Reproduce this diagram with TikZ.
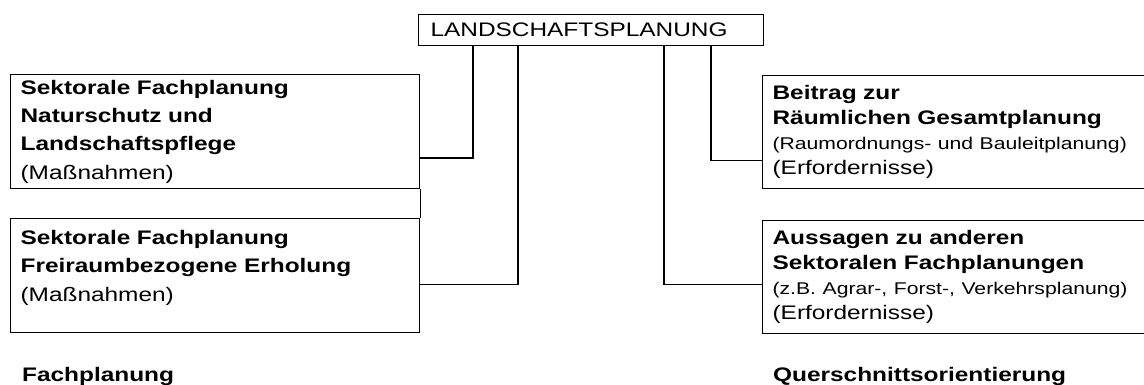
\documentclass[tikz,border=0pt]{standalone}
\usepackage{fontspec}
\setmainfont[FakeStretch=1.245]{Liberation Sans}
\usetikzlibrary{positioning,calc}
\newcommand{\kleinschrift}{\fontsize{17}{25}\selectfont}

\begin{document}
\begin{tikzpicture}[x=1pt,y=1pt,node distance=29pt]
  \tikzstyle{planbox}=[draw,line width=1.2pt,anchor=north west,align=left,inner xsep=10pt,inner ysep=0pt,font=\fontsize{19.6}{28.3}\selectfont]
  \tikzstyle{links}=[planbox,text width=389pt,minimum height=114pt]
  \tikzstyle{rechts}=[planbox,text width=378pt,minimum height=113pt,font=\fontsize{19.6}{25}\selectfont]
  \tikzstyle{caption}=[inner sep=0pt,anchor=west,font=\fontsize{19.6}{24}\selectfont\bfseries]
  \tikzstyle{conn}=[line width=1.2pt]
  \useasboundingbox (0,0) rectangle (1144,385);
  \clip (0,0) rectangle (1144,385);
  \node[planbox,text width=321pt,inner xsep=12pt,minimum height=31pt] (lplan) at (418,371) {LANDSCHAFTSPLANUNG};
  % Fachplanung links
  \node[links] (fachA) at (10,311) {\textbf{Sektorale Fachplanung}\\\textbf{Naturschutz und}\\\textbf{Landschaftspflege}\\(Maßnahmen)};
  \node[links,below=29pt of fachA] (fachB) {\textbf{Sektorale Fachplanung}\\\textbf{Freiraumbezogene Erholung}\\(Maßnahmen)\\[-8pt]\mbox{}};
  % Querschnitt rechts
  \node[rechts] (beitrag) at (762,310) {\textbf{Beitrag zur}\\\textbf{Räumlichen Gesamtplanung}\\{\kleinschrift(Raumordnungs- und Bauleitplanung)}\\(Erfordernisse)};
  \node[rechts,below=31pt of beitrag] (aussagen) {\textbf{Aussagen zu anderen}\\\textbf{Sektoralen Fachplanungen}\\{\kleinschrift(z.B. Agrar-, Forst-, Verkehrsplanung)}\\(Erfordernisse)};
  \node[caption,below=43pt of fachB.south west,anchor=west,xshift=12pt] (fachlabel) {Fachplanung};
  \node[caption,below=42pt of aussagen.south west,anchor=west,xshift=11pt] (querlabel) {Querschnittsorientierung};
  \draw[conn] ([xshift=55pt]lplan.south west) |- ($(fachA.north east)!.73!(fachA.south east)$);
  \draw[conn] ([xshift=100pt]lplan.south west) |- ($(fachB.north east)!.575!(fachB.south east)$);
  \draw[conn] ([xshift=246pt]lplan.south west) |- ($(aussagen.north west)!.56!(aussagen.south west)$);
  \draw[conn] ([xshift=293pt]lplan.south west) |- ($(beitrag.north west)!.75!(beitrag.south west)$);
  \draw[conn] (fachA.south east) -- (fachB.north east);
\end{tikzpicture}
\end{document}
